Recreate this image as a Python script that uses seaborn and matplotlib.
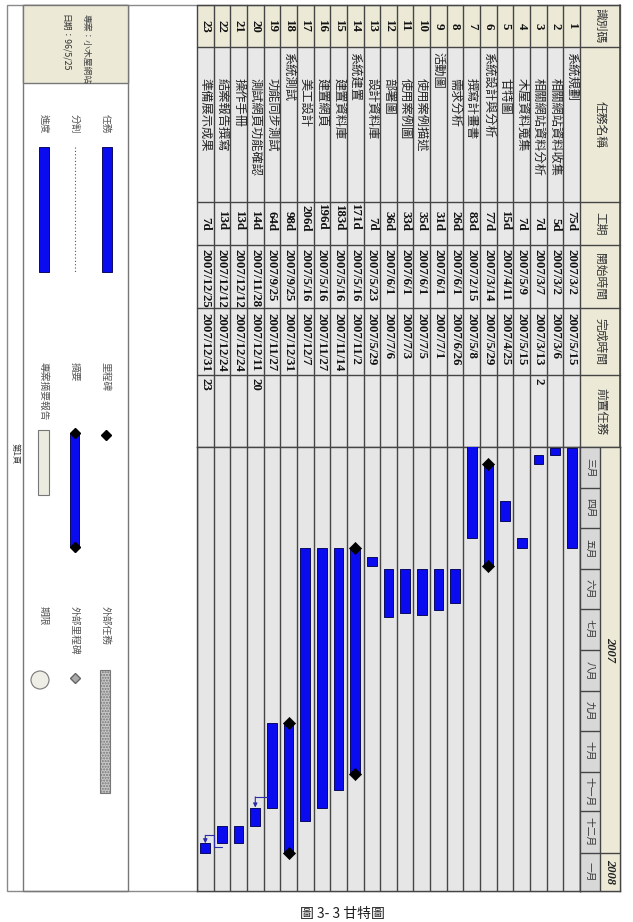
import numpy as np
import pandas as pd
import matplotlib
matplotlib.use("Agg")
import matplotlib.pyplot as plt
import matplotlib.dates as mdates
from matplotlib.patches import Rectangle, Circle
import seaborn as sns

sns.set_theme(style="white")
plt.rcParams['font.family'] = ['Noto Sans CJK TC', 'DejaVu Sans']

# ---- data ----
task_ids = list(range(1, 24))
task_names = ["系統規劃", "相關網站資料收集", "相關網站資料分析", "木屋資料蒐集", "甘特圖",
              "系統設計與分析", "撰寫計畫書", "需求分析", "活動圖", "使用案例描述",
              "使用案例圖", "部署圖", "設計資料庫", "系統建置", "建置資料庫",
              "建置網頁", "美工設計", "系統測試", "功能同步測試", "測試網頁功能確認",
              "操作手冊", "結案報告撰寫", "準備展示成果"]
outline_level = [0, 1, 1, 1, 1, 0, 1, 1, 0, 1, 1, 1, 1, 0, 1, 1, 1, 0, 1, 1, 1, 1, 1]
durations = ["75d", "5d", "7d", "7d", "15d", "77d", "83d", "26d", "31d", "35d", "33d", "36d",
             "7d", "171d", "183d", "196d", "206d", "98d", "64d", "14d", "13d", "13d", "7d"]
start_dates = ["2007/3/2", "2007/3/2", "2007/3/7", "2007/5/9", "2007/4/11", "2007/3/14",
               "2007/2/15", "2007/6/1", "2007/6/1", "2007/6/1", "2007/6/1", "2007/6/1",
               "2007/5/23", "2007/5/16", "2007/5/16", "2007/5/16", "2007/5/16", "2007/9/25",
               "2007/9/25", "2007/11/28", "2007/12/12", "2007/12/12", "2007/12/25"]
finish_dates = ["2007/5/15", "2007/3/6", "2007/3/13", "2007/5/15", "2007/4/25", "2007/5/29",
                "2007/5/8", "2007/6/26", "2007/7/1", "2007/7/5", "2007/7/3", "2007/7/6",
                "2007/5/29", "2007/11/2", "2007/11/14", "2007/11/27", "2007/12/7", "2007/12/31",
                "2007/11/27", "2007/12/11", "2007/12/24", "2007/12/24", "2007/12/31"]
predecessors = ["", "", "2", "", "", "", "", "", "", "", "", "", "", "", "", "", "", "",
                "", "20", "", "", "23"]
summary_ids = [6, 14, 18]
links = [(19, 20), (22, 23)]
header_labels = ["識別碼", "任務名稱", "工期", "開始時間", "完成時間", "前置任務"]
month_labels = ["三月", "四月", "五月", "六月", "七月", "八月", "九月", "十月", "十一月", "十二月", "一月"]
month_starts = pd.date_range("2007-03-01", periods=11, freq="MS")
year_labels = ["2007", "2008"]
view_start, view_end = "2007-03-01", "2008-01-30"

df = pd.DataFrame({"id": task_ids, "name": task_names, "level": outline_level,
                   "dur": durations, "start_s": start_dates, "finish_s": finish_dates,
                   "pred": predecessors})
df["start"] = pd.to_datetime(df.start_s, format="%Y/%m/%d")
df["finish"] = pd.to_datetime(df.finish_s, format="%Y/%m/%d")
s_num = mdates.date2num(df.start)
f_num = mdates.date2num(df.finish) + 1

# ---- page layout (pixels) ----
W, H = 633, 922
TL, TR, HR = 197, 580, 620
TOP, BOT, GT = 5, 891, 447
col_edges = [5, 47, 202, 245, 308, 375, 447]
rw = (TR - TL) / len(task_ids)
grid_c = '#454545'
beige = '#ecead7'
body = '#e8e8e8'
blue = '#0b0bf0'
serif_b = dict(family='Liberation Serif', weight='bold')

fig = plt.figure(figsize=(W / 100, H / 100), dpi=100)
bg = fig.add_axes([0, 0, 1, 1])
bg.set_xlim(0, W)
bg.set_ylim(H, 0)
bg.axis('off')

# table body
bg.add_patch(Rectangle((TL, TOP), TR - TL, GT - TOP, fc=body, ec='none'))
bg.add_patch(Rectangle((TL, TOP), TR - TL, col_edges[1] - TOP, fc=beige, ec='none'))
bg.add_patch(Rectangle((TR, TOP), HR - TR, GT - TOP, fc=beige, ec='none'))
for k in range(len(task_ids) + 1):
    x = TR - k * rw
    bg.plot([x, x], [TOP, GT], color=grid_c, lw=1)
for y in col_edges:
    bg.plot([TL, HR], [y, y], color=grid_c, lw=1)
bg.plot([HR, HR], [TOP, BOT], color=grid_c, lw=1.2)

# header texts
for lab, y0, y1 in zip(header_labels, col_edges[:-1], col_edges[1:]):
    bg.text((TR + HR) / 2, (y0 + y1) / 2, lab, rotation=-90, ha='center', va='center',
            fontsize=8.5, color='#333333')

# row texts
for i, r in df.iterrows():
    xc = TR - (i + 0.5) * rw
    bg.text(xc, 26, str(r.id), rotation=-90, ha='center', va='center', fontsize=9.3,
            color='#111111', **serif_b)
    bg.text(xc, 52 + 26 * r.level, r["name"], rotation=-90, ha='center', va='top',
            fontsize=8.8, color='#222222')
    bg.text(xc, 231, r.dur, rotation=-90, ha='center', va='bottom', fontsize=9.3,
            color='#111111', **serif_b)
    bg.text(xc, 249, r.start_s, rotation=-90, ha='center', va='top', fontsize=9.3,
            color='#111111', **serif_b)
    bg.text(xc, 313, r.finish_s, rotation=-90, ha='center', va='top', fontsize=9.3,
            color='#111111', **serif_b)
    if r.pred:
        bg.text(xc, 378, r.pred, rotation=-90, ha='center', va='top', fontsize=9.3,
                color='#111111', **serif_b)

# ---- gantt ----
gx = fig.add_axes([TL / W, 1 - BOT / H, (TR - TL) / W, (BOT - GT) / H])
gx.set_facecolor('#e6e6e6')
y_lo, y_hi = mdates.date2num(pd.Timestamp(view_start)), mdates.date2num(pd.Timestamp(view_end))
gx.vlines(np.arange(0.5, len(task_ids) + 1), y_lo, y_hi, color=grid_c, lw=1, zorder=1)
gx.bar(df.id, f_num - s_num, bottom=s_num, width=0.58, color=blue, edgecolor='#0a0a60',
       linewidth=0.7, zorder=3)

summ = df[df.id.isin(summary_ids)]
ends = pd.DataFrame({"row": np.concatenate([summ.id, summ.id]),
                     "t": np.concatenate([s_num[summ.index], f_num[summ.index]])})
sns.scatterplot(data=ends, x="row", y="t", marker='D', color='black', s=38,
                edgecolor='black', ax=gx, zorder=5, legend=False)

lc = '#2b2ba8'
for p, q in links:
    pe, qs = f_num[p - 1], s_num[q - 1]
    if p == 19:
        yy = pe - 8
        gx.plot([p + 0.3, q], [yy, yy], color=lc, lw=0.8, zorder=4)
        gx.annotate("", xy=(q, qs), xytext=(q, yy),
                    arrowprops=dict(arrowstyle='-|>', color=lc, lw=0.8, mutation_scale=6,
                                    shrinkA=0, shrinkB=0), zorder=4)
    else:
        y1, y2 = pe + 3, pe - 6
        gx.plot([p, p + 0.5, p + 0.5, q], [y1, y1, y2, y2], color=lc, lw=0.8, zorder=4)
        gx.annotate("", xy=(q, qs), xytext=(q, y2),
                    arrowprops=dict(arrowstyle='-|>', color=lc, lw=0.8, mutation_scale=6,
                                    shrinkA=0, shrinkB=0), zorder=4)

gx.set_xlim(len(task_ids) + 0.5, 0.5)
gx.set_ylim(y_hi, y_lo)
gx.set_xticks([])
gx.set_yticks([])
gx.set_xlabel('')
gx.set_ylabel('')
for sp in gx.spines.values():
    sp.set_color(grid_c)
    sp.set_linewidth(1)

# timescale header
hx = fig.add_axes([TR / W, 1 - BOT / H, (HR - TR) / W, (BOT - GT) / H])
hx.set_xlim(0, 2)
hx.set_ylim(y_hi, y_lo)
hx.axvspan(0, 1, color='#d8d8d8', zorder=0)
hx.axvspan(1, 2, color=beige, zorder=0)
m_num = mdates.date2num(month_starts)
m_edges = np.append(m_num, y_hi)
hx.hlines(m_num[1:], 0, 1, color=grid_c, lw=1)
hx.hlines(m_num[-1], 1, 2, color=grid_c, lw=1)
hx.vlines(1, y_lo, y_hi, color=grid_c, lw=1)
for lab, a, b in zip(month_labels, m_edges[:-1], m_edges[1:]):
    hx.text(0.5, (a + b) / 2, lab, rotation=-90, ha='center', va='center',
            fontsize=7, color='#333333')
yr_edges = [y_lo, m_num[-1], y_hi]
for lab, a, b in zip(year_labels, yr_edges[:-1], yr_edges[1:]):
    hx.text(1.5, (a + b) / 2, lab, rotation=-90, ha='center', va='center',
            fontsize=9, style='italic', color='#222222', **serif_b)
hx.set_xticks([])
hx.set_yticks([])
for sp in hx.spines.values():
    sp.set_color(grid_c)
    sp.set_linewidth(1)

# ---- page frame and legend ----
bg.add_patch(Rectangle((7, TOP), HR - 7, BOT - TOP, fc='none', ec='#8a8a8a', lw=1))
bg.add_patch(Rectangle((23, TOP), 128 - 23, BOT - TOP, fc='none', ec='#777777', lw=1))
bg.add_patch(Rectangle((23, TOP), 128 - 23, 83 - TOP, fc=beige, ec='#777777', lw=1))
bg.text(86, 14, "專案：小木屋網站", rotation=-90, ha='center', va='top', fontsize=6.3,
        color='#444444')
bg.text(65, 14, "日期：96/5/25", rotation=-90, ha='center', va='top', fontsize=6.3,
        color='#333333')
bg.text(15, 443, "第1頁", rotation=-90, ha='center', va='top', fontsize=6, color='#333333')

lt = dict(rotation=-90, ha='center', va='top', fontsize=7, color='#555555')
bg.text(106, 114, "任務", **lt)
bg.text(75, 114, "分割", **lt)
bg.text(44, 114, "進度", **lt)
bg.text(106, 362, "里程碑", **lt)
bg.text(75, 362, "摘要", **lt)
bg.text(44, 362, "專案摘要報告", **lt)
bg.text(106, 606, "外部任務", **lt)
bg.text(75, 606, "外部里程碑", **lt)
bg.text(44, 606, "期限", **lt)

bg.add_patch(Rectangle((102, 147), 10, 125, fc=blue, ec='#0a0a60', lw=0.7))
bg.plot([75, 75], [147, 272], color='#555555', lw=0.8, ls=(0, (1, 2)))
bg.add_patch(Rectangle((39, 147), 10, 125, fc=blue, ec='#0a0a60', lw=0.7))
bg.plot([106], [435], marker='D', color='black', ms=5.5)
bg.add_patch(Rectangle((70, 433), 9, 114, fc=blue, ec='#0a0a60', lw=0.7))
bg.plot([74.5, 74.5], [433, 547], ls='none', marker='D', color='black', ms=5)
bg.add_patch(Rectangle((38, 430), 11, 65, fc='#ecebdf', ec='#777777', lw=0.8))
bg.add_patch(Rectangle((100, 670), 10, 123, fc='#c8c8c8', ec='#777777', lw=0.8,
                       hatch='......'))
bg.plot([75], [678], marker='D', color='#aaaaaa', mec='#666666', ms=5)
bg.add_patch(Circle((40, 680), 9, fc='#eeeee6', ec='#777777', lw=0.8))

bg.text(342, 914, "圖 3- 3 甘特圖", ha='center', va='center', fontsize=10, color='#222222')

fig.savefig("out.png", dpi=100)
